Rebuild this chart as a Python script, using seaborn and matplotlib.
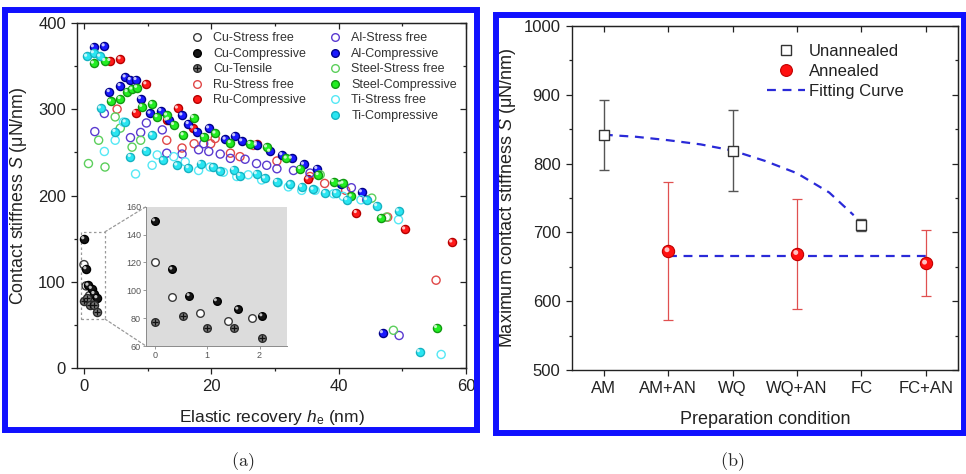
import numpy as np
import pandas as pd
import matplotlib
matplotlib.use("Agg")
import matplotlib.pyplot as plt
import seaborn as sns
from matplotlib.lines import Line2D
from matplotlib.patches import Rectangle, ConnectionPatch
from matplotlib.transforms import offset_copy
from matplotlib.legend_handler import HandlerTuple

sns.set_style("ticks")
plt.rcParams["font.family"] = ["Liberation Sans", "DejaVu Sans"]
plt.rcParams["mathtext.fontset"] = "custom"
plt.rcParams["mathtext.rm"] = "Liberation Sans"
plt.rcParams["mathtext.it"] = "Liberation Sans:italic"
plt.rcParams["mathtext.bf"] = "Liberation Sans:bold"
plt.rcParams["axes.edgecolor"] = "#222222"
plt.rcParams["xtick.color"] = "#222222"
plt.rcParams["ytick.color"] = "#222222"

# ---------------- (a) contact stiffness vs elastic recovery ----------------
cu_free_x = [0.0, 0.33, 0.86, 1.39, 1.85]
cu_free_y = [120, 95.4, 84, 78, 80.3]
cu_comp_x = [0.0, 0.33, 0.66, 1.18, 1.59, 2.05]
cu_comp_y = [149.7, 115, 96, 92.3, 86.3, 81.5]
cu_tens_x = [0.0, 0.53, 0.99, 1.52, 2.05]
cu_tens_y = [77.5, 81.5, 72.7, 73.2, 65.5]

ru_free_x = [5.2, 13.0, 15.4, 17.3, 19.9, 20.6, 23.0, 24.5, 26.6, 30.3, 35.5,
             37.8, 41.1, 47.7, 55.3]
ru_free_y = [300, 264, 255, 260, 260, 266, 249, 245, 258, 240, 222,
             214, 206, 175, 102]
ru_comp_x = [4.1, 5.7, 8.1, 9.75, 13.0, 14.7, 17.1, 27.1, 35.2, 42.8, 50.4, 57.8]
ru_comp_y = [356, 358, 296, 329, 287, 301, 278, 260, 219, 180, 161, 146]

al_free_x = [1.7, 3.2, 7.3, 8.9, 9.8, 12.3, 13.0, 15.4, 18.0, 18.8, 19.6, 21.4,
             23.0, 25.3, 27.1, 28.7, 30.3, 32.9, 35.5, 42.0, 44.4, 49.5]
al_free_y = [274, 295, 267, 273, 284, 276, 249, 248, 253, 260, 251, 248,
             243, 242, 237, 235, 231, 229, 226, 209, 195, 38]
al_comp_x = [1.5, 3.2, 4.0, 5.7, 6.5, 7.3, 8.2, 8.9, 10.4, 12.1, 13.3, 15.4,
             16.4, 17.7, 19.6, 22.2, 23.7, 24.8, 27.1, 29.2, 31.1, 32.6, 34.5,
             36.6, 40.3, 43.6, 46.9]
al_comp_y = [372, 373, 320, 327, 337, 334, 334, 312, 295, 298, 288, 293,
             283, 274, 278, 265, 269, 263, 258, 251, 247, 243, 236,
             231, 213, 204, 41]

steel_free_x = [0.7, 2.3, 3.3, 4.9, 5.7, 7.55, 8.9, 37.1, 45.2, 47.5, 48.6]
steel_free_y = [237, 264, 233, 291, 278, 256, 264, 224, 197, 175, 44]
steel_comp_x = [1.5, 3.3, 4.2, 5.7, 6.8, 7.55, 8.3, 9.1, 10.7, 11.5, 13.0, 14.1,
                15.6, 17.2, 18.8, 20.6, 23.0, 26.1, 28.7, 31.8, 34.0, 36.8,
                39.2, 40.7, 42.0, 46.7, 55.4]
steel_comp_y = [353, 356, 309, 312, 320, 323, 325, 303, 306, 291, 293, 282,
                270, 290, 268, 272, 261, 260, 256, 243, 231, 224,
                216, 214, 199, 174, 47]

ti_free_x = [3.2, 4.9, 6.2, 8.1, 10.7, 11.5, 14.1, 15.9, 18.0, 19.8, 21.9, 24.0,
             25.8, 27.9, 30.5, 32.1, 34.2, 36.3, 39.2, 40.7, 43.5, 49.4, 56.1]
ti_free_y = [251, 264, 285, 225, 235, 247, 245, 239, 229, 233, 227, 222,
             224, 218, 215, 210, 206, 206, 202, 199, 195, 172, 16]
ti_comp_x = [0.45, 1.5, 2.5, 2.6, 4.9, 6.5, 7.3, 9.75, 10.7, 12.4, 14.6, 16.4,
             18.3, 20.3, 21.4, 23.5, 24.5, 27.1, 28.4, 30.3, 32.4, 34.2, 36.0,
             37.9, 39.6, 41.3, 44.4, 46.0, 49.4, 52.7]
ti_comp_y = [361, 365, 361, 301, 274, 285, 245, 252, 270, 241, 235, 232,
             237, 233, 228, 230, 223, 225, 220, 216, 213, 210, 207,
             203, 203, 195, 195, 188, 182, 19]

# ---------------- (b) maximum contact stiffness by preparation ----------------
conditions = ["AM", "AM+AN", "WQ", "WQ+AN", "FC", "FC+AN"]
unannealed_cond = ["AM", "WQ", "FC"]
unannealed_val = [842, 819, 711]
unannealed_err = [51, 59, 9]
annealed_cond = ["AM+AN", "WQ+AN", "FC+AN"]
annealed_val = [673, 669, 655]
annealed_err = [100, 80, 48]
fit_pos = [1.0, 1.5, 2.0, 2.5, 3.0, 3.5, 4.0, 4.5, 4.88]
fit_val = [842, 839, 834, 828, 819, 804, 786, 758, 725]
flat_pos = [2.0, 6.0]
flat_val = [665, 665]

fig = plt.figure(figsize=(9.66, 4.74), dpi=100)
fig.patch.set_facecolor("white")


def scatter_series(axis, x, y, face, edge, s=34, lw=1.0, marker="o", shine=False, z=3):
    df = pd.DataFrame({"x": x, "y": y})
    sns.scatterplot(data=df, x="x", y="y", ax=axis, marker=marker, s=s,
                    facecolor=face, edgecolor=edge, linewidth=lw,
                    legend=False, zorder=z)
    if shine:
        tr = offset_copy(axis.transData, fig=fig, x=-0.9, y=0.9, units="points")
        sns.scatterplot(data=df, x="x", y="y", ax=axis, marker="o", s=s * 0.16,
                        facecolor="white", edgecolor="none", alpha=0.75,
                        linewidth=0, legend=False, zorder=z + 0.5, transform=tr)


def mirror_ticks(axis, xmaj, xmin, ymaj, ymin):
    top = axis.secondary_xaxis("top")
    top.set_xticks(xmaj)
    top.set_xticks(xmin, minor=True)
    top.set_xticklabels([])
    top.tick_params(axis="x", which="both", direction="in", labeltop=False)
    top.tick_params(which="major", length=4.5, width=0.9)
    top.tick_params(which="minor", length=2.5, width=0.9)
    right = axis.secondary_yaxis("right")
    right.set_yticks(ymaj)
    right.set_yticks(ymin, minor=True)
    right.set_yticklabels([])
    right.tick_params(axis="y", which="both", direction="in", labelright=False)
    right.tick_params(which="major", length=4.5, width=0.9)
    right.tick_params(which="minor", length=2.5, width=0.9)


# ---- panel (a)
ax = fig.add_axes([0.0797, 0.223, 0.4027, 0.729])
series = [
    ("Cu-Stress free", cu_free_x, cu_free_y, "none", "#3a3a3a", False),
    ("Cu-Compressive", cu_comp_x, cu_comp_y, "#151515", "#000000", True),
    ("Cu-Tensile", cu_tens_x, cu_tens_y, "#7a7a7a", "#2a2a2a", False),
    ("Ru-Stress free", ru_free_x, ru_free_y, "none", "#e04848", False),
    ("Ru-Compressive", ru_comp_x, ru_comp_y, "#ff1a1a", "#b80000", True),
    ("Al-Stress free", al_free_x, al_free_y, "none", "#5a3ad0", False),
    ("Al-Compressive", al_comp_x, al_comp_y, "#1a1aff", "#00008b", True),
    ("Steel-Stress free", steel_free_x, steel_free_y, "none", "#5ccf5c", False),
    ("Steel-Compressive", steel_comp_x, steel_comp_y, "#22ee22", "#119911", True),
    ("Ti-Stress free", ti_free_x, ti_free_y, "none", "#55e8f5", False),
    ("Ti-Compressive", ti_comp_x, ti_comp_y, "#2ae6f2", "#16b3c2", True),
]
for name, xs, ys, fc, ec, shine in series:
    scatter_series(ax, xs, ys, fc, ec, shine=shine)
    if name == "Cu-Tensile":
        scatter_series(ax, xs, ys, "#111111", "#111111", s=22, lw=0.9, marker="+", z=3.6)

ax.set_xlim(-1.1, 60)
ax.set_ylim(0, 400)
ax.set_xticks([0, 20, 40, 60])
ax.set_xticks([10, 30, 50], minor=True)
ax.set_yticks([0, 100, 200, 300, 400])
ax.set_yticks([50, 150, 250, 350], minor=True)
ax.tick_params(which="both", direction="out", labelsize=12, width=0.9)
ax.tick_params(which="major", length=4.5)
ax.tick_params(which="minor", length=2.5)
for sp in ax.spines.values():
    sp.set_linewidth(1.0)
    sp.set_visible(True)
mirror_ticks(ax, [0, 20, 40, 60], [10, 30, 50], [0, 100, 200, 300, 400],
             [50, 150, 250, 350])
ax.set_xlabel(r"Elastic recovery $h_\mathrm{e}$ (nm)", fontsize=12.5, color="#222222")
ax.set_ylabel(r"Contact stiffness $S$ (μN/nm)", fontsize=12.8, color="#222222")
ax.xaxis.set_label_coords(0.5, -0.115)
ax.yaxis.set_label_coords(-0.124, 0.5)

# zoom box around the Cu cluster
ax.add_patch(Rectangle((-0.45, 57), 3.75, 101, fill=False, edgecolor="#9a9a9a",
                       linestyle=(0, (2, 2)), linewidth=0.9, zorder=2))

# legend with an empty slot so the first column holds five entries
handles = []
labels = []
for name, xs, ys, fc, ec, shine in series:
    h = Line2D([], [], linestyle="none", marker="o", markersize=5.5,
               markerfacecolor=fc, markeredgecolor=ec, markeredgewidth=1.0)
    if name == "Cu-Tensile":
        h = (h, Line2D([], [], linestyle="none", marker="+", markersize=4.5,
                       markeredgecolor="#111111", markeredgewidth=0.9))
    handles.append(h)
    labels.append(name)
    if name == "Ru-Compressive":
        handles.append(Line2D([], [], linestyle="none"))
        labels.append("")
leg = ax.legend(handles, labels, ncol=2, loc="upper left",
                bbox_to_anchor=(0.2924, 0.972), frameon=False, fontsize=9,
                handlelength=1.0, handletextpad=0.78, columnspacing=1.85,
                labelspacing=0.28, borderpad=0, borderaxespad=0,
                handler_map={tuple: HandlerTuple(ndivide=1)})
for t in leg.get_texts():
    t.set_color("#333333")

# inset with the Cu data
axin = fig.add_axes([0.1511, 0.270, 0.1457, 0.2939])
axin.set_facecolor("#dcdcdc")
for name, xs, ys, fc, ec, shine in series[:3]:
    scatter_series(axin, xs, ys, fc if fc != "none" else "white", ec, s=30, shine=shine)
    if name == "Cu-Tensile":
        scatter_series(axin, xs, ys, "#111111", "#111111", s=20, lw=0.9, marker="+", z=3.6)
axin.set_xlim(-0.17, 2.52)
axin.set_ylim(60, 160)
axin.set_xticks([0, 1, 2])
axin.set_yticks([60, 80, 100, 120, 140, 160])
axin.tick_params(labelsize=6.5, labelcolor="#555555", color="#888888",
                 length=2, width=0.6, direction="out", pad=1.5)
axin.spines["top"].set_visible(False)
axin.spines["right"].set_visible(False)
axin.spines["left"].set_color("#8a8a8a")
axin.spines["bottom"].set_color("#8a8a8a")
axin.spines["left"].set_linewidth(0.7)
axin.spines["bottom"].set_linewidth(0.7)
axin.set_xlabel("")
axin.set_ylabel("")
for ya, yb in [(158, 1.0), (57, 0.0)]:
    con = ConnectionPatch(xyA=(3.3, ya), coordsA=ax.transData,
                          xyB=(0.0, yb), coordsB=axin.transAxes,
                          color="#9a9a9a", linestyle=(0, (2, 2)), linewidth=0.9)
    fig.add_artist(con)

# ---- panel (b)
ax2 = fig.add_axes([0.5918, 0.2194, 0.3999, 0.7257])
un_pos = [conditions.index(c) + 1 for c in unannealed_cond]
an_pos = [conditions.index(c) + 1 for c in annealed_cond]
fit_color = "#2a2ad8"
sns.lineplot(x=fit_pos, y=fit_val, ax=ax2, color=fit_color, linewidth=1.6,
             linestyle=(0, (4, 3)), zorder=2)
sns.lineplot(x=flat_pos, y=flat_val, ax=ax2, color=fit_color, linewidth=1.6,
             linestyle=(0, (4, 3)), zorder=2)
ax2.errorbar(un_pos, unannealed_val, yerr=unannealed_err, fmt="none",
             ecolor="#555555", elinewidth=1.0, capsize=3.3, capthick=1.0, zorder=3)
ax2.errorbar(an_pos, annealed_val, yerr=annealed_err, fmt="none",
             ecolor="#e05050", elinewidth=0.9, capsize=3.3, capthick=0.9, zorder=3)
scatter_series(ax2, un_pos, unannealed_val, "white", "#333333", s=52, lw=1.0,
               marker="s", z=4)
scatter_series(ax2, an_pos, annealed_val, "#ff1010", "#c00000", s=78, lw=0.8,
               shine=True, z=4)
ax2.set_xlim(0.5, 6.5)
ax2.set_ylim(500, 1000)
ax2.set_xticks(range(1, 7))
ax2.set_xticklabels(conditions)
ax2.set_yticks([500, 600, 700, 800, 900, 1000])
ax2.set_yticks([550, 650, 750, 850, 950], minor=True)
ax2.tick_params(which="both", direction="out", labelsize=12, width=0.9)
ax2.tick_params(which="major", length=4.5)
ax2.tick_params(which="minor", length=2.5)
ax2.tick_params(axis="x", which="minor", bottom=False)
for sp in ax2.spines.values():
    sp.set_linewidth(1.0)
    sp.set_visible(True)
mirror_ticks(ax2, list(range(1, 7)), [], [500, 600, 700, 800, 900, 1000],
             [550, 650, 750, 850, 950])
ax2.set_xlabel("Preparation condition", fontsize=13, color="#222222")
ax2.set_ylabel(r"Maximum contact stiffness $S$ (μN/nm)", fontsize=13, color="#222222")
ax2.xaxis.set_label_coords(0.5, -0.12)
ax2.yaxis.set_label_coords(-0.139, 0.5)

hb = [
    Line2D([], [], linestyle="none", marker="s", markersize=7,
           markerfacecolor="white", markeredgecolor="#333333", markeredgewidth=1.0),
    Line2D([], [], linestyle="none", marker="o", markersize=8.5,
           markerfacecolor="#ff1010", markeredgecolor="#c00000", markeredgewidth=0.8),
    Line2D([], [], color=fit_color, linewidth=1.6, linestyle=(0, (4, 3))),
]
leg2 = ax2.legend(hb, ["Unannealed", "Annealed", "Fitting Curve"], loc="upper left",
                  bbox_to_anchor=(0.5056, 0.948), frameon=False, fontsize=12,
                  handlelength=2.3, handletextpad=0.2, labelspacing=0.3,
                  borderpad=0, borderaxespad=0)
for t in leg2.get_texts():
    t.set_color("#222222")

# ---- blue panel frames and captions
frame_kw = dict(fill=False, edgecolor="#1010ff", linewidth=4.3,
                transform=fig.transFigure, zorder=10)
fig.add_artist(Rectangle((4.5 / 966, 1 - 430 / 474), 472.5 / 966, 420 / 474, **frame_kw))
fig.add_artist(Rectangle((495.5 / 966, 1 - 432.5 / 474), 468.5 / 966, 418 / 474, **frame_kw))
fig.text(243 / 966, 1 - 462 / 474, r"$\mathrm{(a)}$", math_fontfamily="cm",
         fontsize=13, ha="center", va="center")
fig.text(732 / 966, 1 - 462 / 474, r"$\mathrm{(b)}$", math_fontfamily="cm",
         fontsize=13, ha="center", va="center")

fig.savefig("out.png", dpi=100, facecolor="white")
